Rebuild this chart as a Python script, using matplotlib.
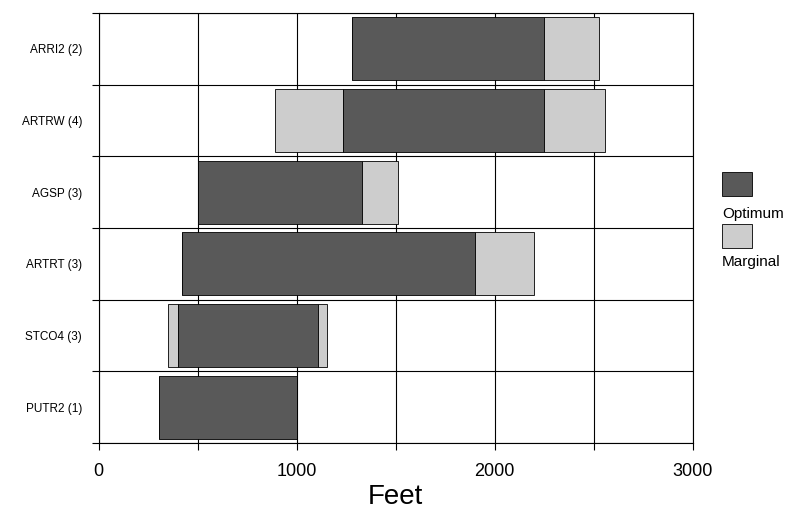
import matplotlib.pyplot as plt
from matplotlib.patches import Rectangle
import numpy as np

# species (top to bottom) and elevation ranges in feet
species = ["ARRI2 (2)", "ARTRW (4)", "AGSP (3)", "ARTRT (3)", "STCO4 (3)", "PUTR2 (1)"]
marg_low = [1280, 890, 500, 420, 350, 305]     # start of lower marginal range
opt_low = [1280, 1235, 500, 420, 400, 305]     # start of optimum range
opt_high = [2250, 2250, 1330, 1900, 1110, 1000]  # end of optimum range
marg_high = [2530, 2560, 1510, 2200, 1155, 1000]  # end of upper marginal range

dark = "#595959"
light = "#cdcdcd"

fig = plt.figure(figsize=(7.96, 5.17), dpi=100)
ax = fig.add_axes([0.124, 0.143, 0.746, 0.832])

y = np.arange(len(species))[::-1]
h = 0.88

ml, ol = np.array(marg_low), np.array(opt_low)
oh, mh = np.array(opt_high), np.array(marg_high)

ax.barh(y, ol - ml, left=ml, height=h, color=light, edgecolor="black", linewidth=0.6)
ax.barh(y, oh - ol, left=ol, height=h, color=dark, edgecolor="black", linewidth=0.6)
ax.barh(y, mh - oh, left=oh, height=h, color=light, edgecolor="black", linewidth=0.6)

ax.set_xlim(0, 3000)
ax.set_ylim(-0.5, len(species) - 0.5)

# grid: vertical at every 500 ft, horizontal between rows
for xv in range(0, 3001, 500):
    ax.axvline(xv, color="black", linewidth=0.8, zorder=0)
for yv in np.arange(-0.5, len(species), 1.0):
    ax.axhline(yv, color="black", linewidth=0.8, zorder=0)

ax.set_xticks(range(0, 3001, 500))
ax.set_xticklabels(["0", "", "1000", "", "2000", "", "3000"], fontsize=13,
                   fontfamily="Liberation Sans")
ax.tick_params(axis="x", length=5, width=0.8, pad=9)

ax.set_yticks(y)
ax.set_yticklabels(species, fontsize=8.5, fontfamily="Liberation Sans")
ax.set_yticks(np.arange(-0.5, len(species), 1.0), minor=True)
ax.tick_params(axis="y", which="major", length=0, pad=12)
ax.tick_params(axis="y", which="minor", length=5, width=0.8)

for s in ax.spines.values():
    s.set_linewidth(0.8)

ax.set_xlabel("Feet", fontsize=20, fontfamily="Liberation Sans", labelpad=3)

# legend: swatch with the label underneath
fig.patches.append(Rectangle((0.907, 0.621), 0.038, 0.046, transform=fig.transFigure,
                             facecolor=dark, edgecolor="black", linewidth=0.6))
fig.text(0.907, 0.587, "Optimum", fontsize=11, fontfamily="Liberation Sans", va="center")
fig.patches.append(Rectangle((0.907, 0.520), 0.038, 0.046, transform=fig.transFigure,
                             facecolor=light, edgecolor="black", linewidth=0.6))
fig.text(0.907, 0.493, "Marginal", fontsize=11, fontfamily="Liberation Sans", va="center")

fig.savefig("out.png", dpi=100)
